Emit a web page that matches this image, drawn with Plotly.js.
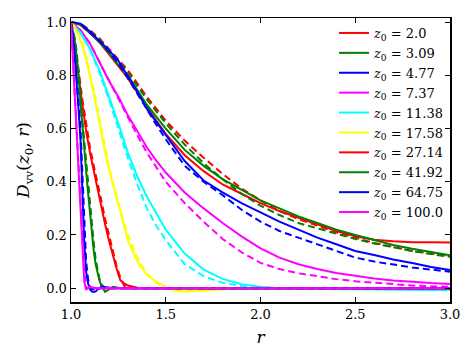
<!DOCTYPE html>
<html>
<head>
<meta charset="utf-8">
<script src="https://cdn.plot.ly/plotly-3.0.1.min.js"></script>
<style>
  html, body { margin: 0; padding: 0; background: #fff; }
  #plot { width: 473px; height: 355px; }
</style>
</head>
<body>
<div id="plot"></div>
<script>
// D_vv(z0, r) profiles: solid = measured, dashed = model

const z0Labels = ['2.0', '3.09', '4.77', '7.37', '11.38', '17.58', '27.14', '41.92', '64.75', '100.0'];
const colors = ['#ff0000', '#008000', '#0000ff', '#ff00ff', '#00ffff',
                '#ffff00', '#ff0000', '#008000', '#0000ff', '#ff00ff'];

// r grids
const rWide = [1.0, 1.05, 1.1, 1.15, 1.2, 1.25, 1.3, 1.35, 1.4, 1.45, 1.5, 1.6, 1.7,
               1.8, 1.9, 2.0, 2.1, 2.2, 2.3, 2.4, 2.5, 2.6, 2.7, 2.8, 2.9, 3.0];
const rMid = [1.0, 1.02, 1.04, 1.06, 1.08, 1.1, 1.12, 1.14, 1.16, 1.18, 1.2, 1.22, 1.24,
              1.26, 1.28, 1.3, 1.35, 1.4, 1.45, 1.5, 1.55, 1.6, 1.7, 1.8, 2.0, 2.5, 3.0];
const rFine = [1.0, 1.01, 1.02, 1.03, 1.04, 1.05, 1.06, 1.07, 1.08, 1.09, 1.1, 1.11, 1.12,
               1.13, 1.14, 1.15, 1.16, 1.18, 1.2, 1.22, 1.25, 1.3, 1.5, 2.0, 3.0];

// solid curves
const d2_0   = [1.0, 0.99, 0.96, 0.925, 0.88, 0.835, 0.79, 0.735, 0.68, 0.63, 0.58, 0.5, 0.44,
                0.39, 0.355, 0.32, 0.29, 0.265, 0.24, 0.215, 0.195, 0.182, 0.176, 0.173, 0.173, 0.172];
const d3_09  = [1.0, 0.99, 0.96, 0.925, 0.885, 0.84, 0.8, 0.745, 0.69, 0.645, 0.6, 0.52, 0.46,
                0.41, 0.37, 0.33, 0.3, 0.27, 0.245, 0.22, 0.2, 0.18, 0.162, 0.148, 0.135, 0.124];
const d4_77  = [1.0, 0.995, 0.965, 0.93, 0.895, 0.855, 0.8, 0.74, 0.675, 0.625, 0.575, 0.478, 0.405,
                0.36, 0.32, 0.285, 0.25, 0.22, 0.19, 0.165, 0.14, 0.125, 0.108, 0.095, 0.08, 0.068];
const d7_37  = [1.0, 0.97, 0.92, 0.85, 0.78, 0.72, 0.65, 0.59, 0.53, 0.48, 0.435, 0.36, 0.3,
                0.245, 0.195, 0.15, 0.115, 0.09, 0.072, 0.057, 0.046, 0.036, 0.029, 0.023, 0.019, 0.016];
const d11_38 = [1.0, 0.96, 0.9, 0.82, 0.72, 0.62, 0.51, 0.42, 0.345, 0.28, 0.22, 0.13, 0.07,
                0.035, 0.015, 0.005, 0.0, -0.002, -0.003, -0.004, -0.005, -0.005, -0.006, -0.006, -0.007, -0.007];
const d17_58 = [1.0, 0.98, 0.95, 0.91, 0.86, 0.8, 0.73, 0.66, 0.58, 0.51, 0.45, 0.39, 0.34,
                0.29, 0.24, 0.18, 0.1, 0.05, 0.025, 0.005, -0.01, -0.013, -0.01, -0.004, 0, 0, 0];
const d27_14 = [1.0, 0.9, 0.8, 0.69, 0.59, 0.51, 0.44, 0.38, 0.31, 0.24, 0.18, 0.125, 0.075,
                0.03, 0.018, 0.01, 0.002, 0, 0, 0, 0, 0, 0, 0, 0, 0, 0];
const d41_92 = [1.0, 0.97, 0.93, 0.87, 0.8, 0.7, 0.6, 0.52, 0.44, 0.36, 0.28, 0.21, 0.14,
                0.09, 0.055, 0.03, 0.01, -0.014, -0.005, 0.005, 0.002, 0, 0, 0, 0];
const d64_75 = [1.0, 0.95, 0.87, 0.78, 0.67, 0.56, 0.36, 0.17, 0.06, 0.018, -0.005, -0.012, -0.014,
                -0.012, -0.005, 0.0, 0.005, 0.004, 0.002, 0, 0, 0, 0, 0, 0];
const d100_0 = [1.0, 0.86, 0.72, 0.58, 0.45, 0.3, 0.16, 0.025, -0.006, 0.003, 0.005, 0.003, 0.001,
                0, 0, 0, 0, 0, 0, 0, 0, 0, 0, 0, 0];

// dashed (model) curves
const m2_0   = [1.0, 0.995, 0.97, 0.94, 0.9, 0.86, 0.82, 0.77, 0.72, 0.675, 0.63, 0.555, 0.49,
                0.43, 0.375, 0.33, 0.29, 0.26, 0.235, 0.21, 0.19, 0.17, 0.155, 0.14, 0.13, 0.12];
const m3_09  = [1.0, 0.993, 0.965, 0.935, 0.895, 0.855, 0.81, 0.76, 0.71, 0.665, 0.62, 0.54, 0.47,
                0.41, 0.355, 0.31, 0.275, 0.245, 0.225, 0.205, 0.185, 0.168, 0.153, 0.14, 0.128, 0.118];
const m4_77  = [1.0, 0.995, 0.96, 0.93, 0.89, 0.845, 0.79, 0.73, 0.67, 0.615, 0.56, 0.46, 0.4,
                0.35, 0.295, 0.25, 0.215, 0.19, 0.165, 0.14, 0.115, 0.1, 0.088, 0.078, 0.07, 0.062];
const m7_37  = [1.0, 0.97, 0.92, 0.85, 0.78, 0.71, 0.64, 0.575, 0.51, 0.455, 0.4, 0.32, 0.25,
                0.185, 0.135, 0.095, 0.072, 0.056, 0.044, 0.034, 0.026, 0.02, 0.015, 0.01, 0.007, 0.005];
const m11_38 = [1.0, 0.96, 0.9, 0.81, 0.71, 0.6, 0.49, 0.39, 0.3, 0.235, 0.18, 0.09, 0.045,
                0.02, 0.008, 0.003, 0, 0, 0, 0, 0, 0, 0, 0, 0, 0];
const m17_58 = [1.0, 0.98, 0.955, 0.92, 0.87, 0.81, 0.745, 0.675, 0.6, 0.53, 0.46, 0.4, 0.345,
                0.295, 0.245, 0.2, 0.115, 0.055, 0.02, 0.0, -0.005, -0.006, -0.005, -0.002, 0, 0, 0];
const m27_14 = [1.0, 0.91, 0.82, 0.71, 0.61, 0.53, 0.46, 0.4, 0.33, 0.26, 0.2, 0.14, 0.085,
                0.04, 0.01, 0.0, 0, 0, 0, 0, 0, 0, 0, 0, 0, 0, 0];
const m41_92 = [1.0, 0.975, 0.94, 0.89, 0.82, 0.73, 0.63, 0.55, 0.47, 0.39, 0.31, 0.24, 0.17,
                0.11, 0.065, 0.035, 0.015, 0.0, -0.003, 0.0, 0, 0, 0, 0, 0];
const m64_75 = [1.0, 0.955, 0.88, 0.8, 0.7, 0.6, 0.44, 0.26, 0.1, 0.035, 0.005, -0.003, -0.005,
                -0.003, 0, 0, 0, 0, 0, 0, 0, 0, 0, 0, 0];
const m100_0 = [1.0, 0.87, 0.74, 0.6, 0.47, 0.34, 0.2, 0.06, 0.0, 0.0, 0.003, 0.002, 0,
                0, 0, 0, 0, 0, 0, 0, 0, 0, 0, 0, 0];

const grids  = [rWide, rWide, rWide, rWide, rWide, rMid, rMid, rFine, rFine, rFine];
const solids = [d2_0, d3_09, d4_77, d7_37, d11_38, d17_58, d27_14, d41_92, d64_75, d100_0];
const models = [m2_0, m3_09, m4_77, m7_37, m11_38, m17_58, m27_14, m41_92, m64_75, m100_0];

const SERIF = 'DejaVu Serif';

const traces = [];
z0Labels.forEach((lab, i) => {
  traces.push({
    x: grids[i], y: solids[i], type: 'scatter', mode: 'lines',
    name: '<i>z</i><sub>0</sub> = ' + lab,
    line: {color: colors[i], width: 2}
  });
  traces.push({
    x: grids[i], y: models[i], type: 'scatter', mode: 'lines',
    showlegend: false, hoverinfo: 'skip',
    line: {color: colors[i], width: 2, dash: '7px,4px'}
  });
});

const axisCommon = {
  showline: true, linecolor: '#000', linewidth: 1.5, mirror: 'ticks',
  ticks: 'inside', ticklen: 5, tickwidth: 1, tickcolor: '#000',
  showgrid: false, zeroline: false,
  tickfont: {family: SERIF, size: 13, color: '#000'}
};

const layout = {
  width: 473, height: 355,
  margin: {l: 71, r: 23, t: 18, b: 53},
  paper_bgcolor: '#fff', plot_bgcolor: '#fff',
  font: {family: SERIF, size: 13, color: '#000'},
  showlegend: true,
  xaxis: Object.assign({}, axisCommon, {
    range: [1.0, 3.0], tickvals: [1.0, 1.5, 2.0, 2.5, 3.0], tickformat: '.1f',
    title: {text: '<i>r</i>', font: {family: SERIF, size: 17, color: '#000'}, standoff: 10}
  }),
  yaxis: Object.assign({}, axisCommon, {
    range: [-0.052, 1.016], tickvals: [0, 0.2, 0.4, 0.6, 0.8, 1.0], tickformat: '.1f',
    title: {text: '<i>D</i><sub>vv</sub>(<i>z</i><sub>0</sub>, <i>r</i>)',
            font: {family: SERIF, size: 17, color: '#000'}, standoff: 12}
  }),
  legend: {
    x: 1.0, xanchor: 'right', y: 1.0, yanchor: 'top',
    bgcolor: 'rgba(0,0,0,0)', borderwidth: 0,
    font: {family: SERIF, size: 13, color: '#000'}
  }
};

Plotly.newPlot('plot', traces, layout, {displayModeBar: false, staticPlot: true});
</script>
</body>
</html>
